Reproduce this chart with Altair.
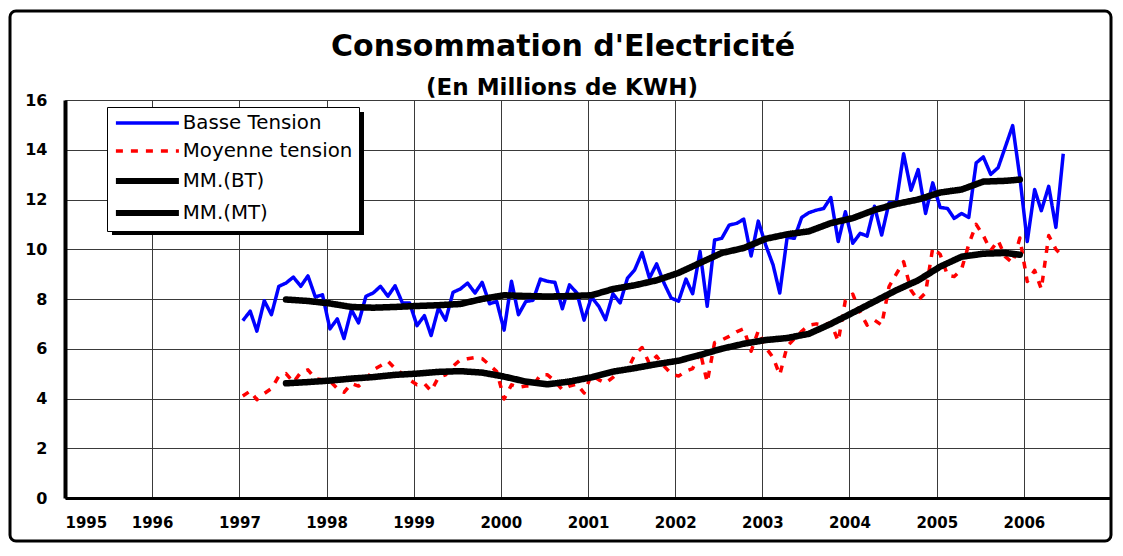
import altair as alt
import pandas as pd

# ---- data (monthly, Jan 1997 .. Jun 2006) ----
months = list(range(114))
bt = [7.13, 7.51, 6.71, 7.93, 7.37, 8.51, 8.64, 8.88, 8.51, 8.93, 8.08, 8.17,
      6.80, 7.20, 6.41, 7.57, 7.04, 8.11, 8.24, 8.51, 8.11, 8.53, 7.84, 7.84,
      6.93, 7.33, 6.53, 7.64, 7.15, 8.27, 8.40, 8.64, 8.24, 8.67, 7.81, 7.90,
      6.75, 8.71, 7.37, 7.90, 7.95, 8.80, 8.71, 8.67, 7.61, 8.57, 8.24, 7.15,
      8.08, 7.70, 7.17, 8.21, 7.84, 8.84, 9.17, 9.87, 8.84, 9.41, 8.64, 8.04,
      7.91, 8.80, 8.21, 9.91, 7.71, 10.37, 10.44, 10.97, 11.04, 11.21, 9.73, 11.13,
      10.17, 9.37, 8.24, 10.48, 10.44, 11.28, 11.47, 11.57, 11.64, 12.08, 10.31, 11.51,
      10.24, 10.64, 10.53, 11.73, 10.57, 11.87, 11.87, 13.84, 12.37, 13.20, 11.44, 12.67,
      11.68, 11.64, 11.24, 11.44, 11.28, 13.47, 13.71, 13.01, 13.28, 14.11, 14.97, 12.90,
      10.31, 12.40, 11.55, 12.53, 10.88, 13.84]
mt = [4.10, 4.30, 3.95, 4.20, 4.40, 4.90, 5.00, 4.65, 5.05, 5.15, 4.80, 4.75,
      4.70, 4.40, 4.25, 4.60, 4.50, 4.75, 5.15, 5.32, 5.50, 5.20, 5.00, 4.75,
      4.55, 4.60, 4.30, 4.85, 4.95, 5.30, 5.55, 5.60, 5.65, 5.60, 5.35, 5.08,
      3.98, 4.55, 4.45, 4.50, 4.50, 4.95, 4.95, 4.70, 4.35, 4.50, 4.58, 4.22,
      4.95, 4.75, 4.62, 4.85, 5.10, 5.15, 5.75, 6.05, 5.40, 5.70, 5.30, 5.00,
      4.90, 5.10, 5.20, 5.90, 4.65, 6.25, 6.35, 6.50, 6.68, 6.80, 5.90, 6.72,
      6.05, 5.65, 4.95, 6.10, 6.40, 6.70, 6.95, 7.00, 6.95, 7.05, 6.30, 7.95,
      8.20, 7.45, 6.95, 7.15, 6.95, 8.50, 9.00, 9.50, 8.35, 7.95, 8.25, 10.05,
      9.80, 8.95, 8.90, 9.20, 10.20, 11.00, 10.55, 9.95, 10.35, 9.70, 9.45, 10.45,
      8.70, 9.15, 8.40, 10.55, 10.00, 9.70]

# moving averages as drawn in the reference (read every 3 months)
ma_months = [6, 9, 12, 15, 18, 21, 24, 27, 30, 33, 36, 39, 42, 45, 48, 51, 54,
             57, 60, 63, 66, 69, 72, 75, 78, 81, 84, 87, 90, 93, 96, 99, 102, 105, 107]
mm_bt = [7.98, 7.92, 7.82, 7.68, 7.65, 7.68, 7.72, 7.75, 7.80, 8.00, 8.15, 8.12,
         8.10, 8.12, 8.15, 8.40, 8.55, 8.75, 9.05, 9.45, 9.85, 10.05, 10.42, 10.60,
         10.72, 11.05, 11.25, 11.58, 11.82, 12.00, 12.28, 12.40, 12.72, 12.75, 12.80]
mm_mt = [4.61, 4.66, 4.72, 4.80, 4.86, 4.95, 5.00, 5.07, 5.10, 5.04, 4.88, 4.68,
         4.57, 4.68, 4.85, 5.08, 5.22, 5.38, 5.52, 5.75, 6.00, 6.20, 6.35, 6.43,
         6.60, 7.00, 7.45, 7.90, 8.35, 8.75, 9.30, 9.70, 9.82, 9.85, 9.78]

series_names = ["Basse Tension", "Moyenne tension", "MM.(BT)", "MM.(MT)"]
series_colors = ["#0000FF", "#FF0000", "#000000", "#000000"]
series_dash = [[1, 0], [7, 8], [1, 0], [1, 0]]
years = list(range(1995, 2007))
y_ticks = list(range(0, 17, 2))
title_text = "Consommation d'Electricité"
subtitle_text = "(En Millions de KWH)"


def month_date(i):
    return f"{1997 + i // 12}-{i % 12 + 1:02d}-15"


rows = []
for name, idx, vals in [(series_names[0], months, bt),
                        (series_names[1], months, mt),
                        (series_names[2], ma_months, mm_bt),
                        (series_names[3], ma_months, mm_mt)]:
    for i, v in zip(idx, vals):
        rows.append({"date": month_date(i), "value": v, "series": name})
df = pd.DataFrame(rows)

W, H = 1046, 398

is_ma = "indexof(['MM.(BT)','MM.(MT)'], datum.value) >= 0"
leg = alt.Legend(
    title=None, orient="none", legendX=42, legendY=7,
    symbolType="M-1.75,0H14", symbolSize=64,
    symbolStrokeWidth=alt.ExprRef(expr=f"{is_ma} ? 6 : 3.5"),
    fillColor="white", strokeColor="black",
    padding=6, rowPadding=7, labelOffset=50,
    labelFont="DejaVu Sans", labelFontSize=19.8, labelColor="black", labelLimit=400,
)

x_enc = alt.X(
    "date:T", title=None,
    scale=alt.Scale(domain=[alt.DateTime(year=1995, month=1, date=1),
                            alt.DateTime(year=2007, month=1, date=1)]),
    axis=alt.Axis(values=[alt.DateTime(year=y, month=1, date=1) for y in years],
                  format="%Y", labelFont="DejaVu Sans", labelFontWeight="bold",
                  labelFontSize=15, labelColor="black", labelPadding=17,
                  ticks=False, domainColor="black", domainWidth=3,
                  grid=True, gridColor="#3a3a3a", gridWidth=1),
)
y_enc = alt.Y(
    "value:Q", title=None, scale=alt.Scale(domain=[0, 16]),
    axis=alt.Axis(values=y_ticks, labelFont="DejaVu Sans", labelFontWeight="bold",
                  labelFontSize=16, labelColor="black", labelPadding=18,
                  ticks=False, domainColor="black", domainWidth=4,
                  grid=True, gridColor="#3a3a3a", gridWidth=1),
)
color_enc = alt.Color("series:N", scale=alt.Scale(domain=series_names, range=series_colors), legend=leg)
dash_enc = alt.StrokeDash("series:N", scale=alt.Scale(domain=series_names, range=series_dash), legend=leg)

base = alt.Chart(df).encode(x=x_enc, y=y_enc, color=color_enc, strokeDash=dash_enc)

line_bt = base.transform_filter(alt.datum.series == series_names[0]).mark_line(
    strokeWidth=3.5, strokeJoin="round")
line_mt = base.transform_filter(alt.datum.series == series_names[1]).mark_line(
    strokeWidth=3.5, strokeJoin="round")
line_ma = base.transform_filter(
    alt.FieldOneOfPredicate(field="series", oneOf=series_names[2:])).mark_line(
    strokeWidth=6.5, strokeJoin="round", strokeCap="round")

one = pd.DataFrame({"k": [0]})
# legend drop shadow
shadow_v = alt.Chart(one).mark_rule(color="black", strokeWidth=5).encode(
    x=alt.value(296.5), y=alt.value(12), y2=alt.value(135))
shadow_h = alt.Chart(one).mark_rule(color="black", strokeWidth=4).encode(
    x=alt.value(47), x2=alt.value(299), y=alt.value(133))
# outer chart frame
frame = alt.Chart(one).mark_rect(filled=False, stroke="black", strokeWidth=3, cornerRadius=6).encode(
    x=alt.value(-55), x2=alt.value(1046), y=alt.value(-89), y2=alt.value(441))
# titles
title_mark = alt.Chart(one).mark_text(
    text=title_text, font="DejaVu Sans", fontSize=30, fontWeight="bold",
    color="black", align="center", baseline="alphabetic").encode(
    x=alt.value(498), y=alt.value(-44))
subtitle_mark = alt.Chart(one).mark_text(
    text=subtitle_text, font="DejaVu Sans", fontSize=23, fontWeight="bold",
    color="black", align="center", baseline="alphabetic").encode(
    x=alt.value(497), y=alt.value(-5))

chart = alt.layer(line_bt, line_mt, line_ma, shadow_v, shadow_h, frame,
                  title_mark, subtitle_mark).properties(
    width=W, height=H,
    autosize=alt.AutoSizeParams(type="none"),
    padding={"left": 57, "top": 92, "right": 4, "bottom": 46},
).configure_view(stroke="black", strokeWidth=3).configure(background="white")

chart.save("out.html", embed_options={"renderer": "svg", "actions": False})
